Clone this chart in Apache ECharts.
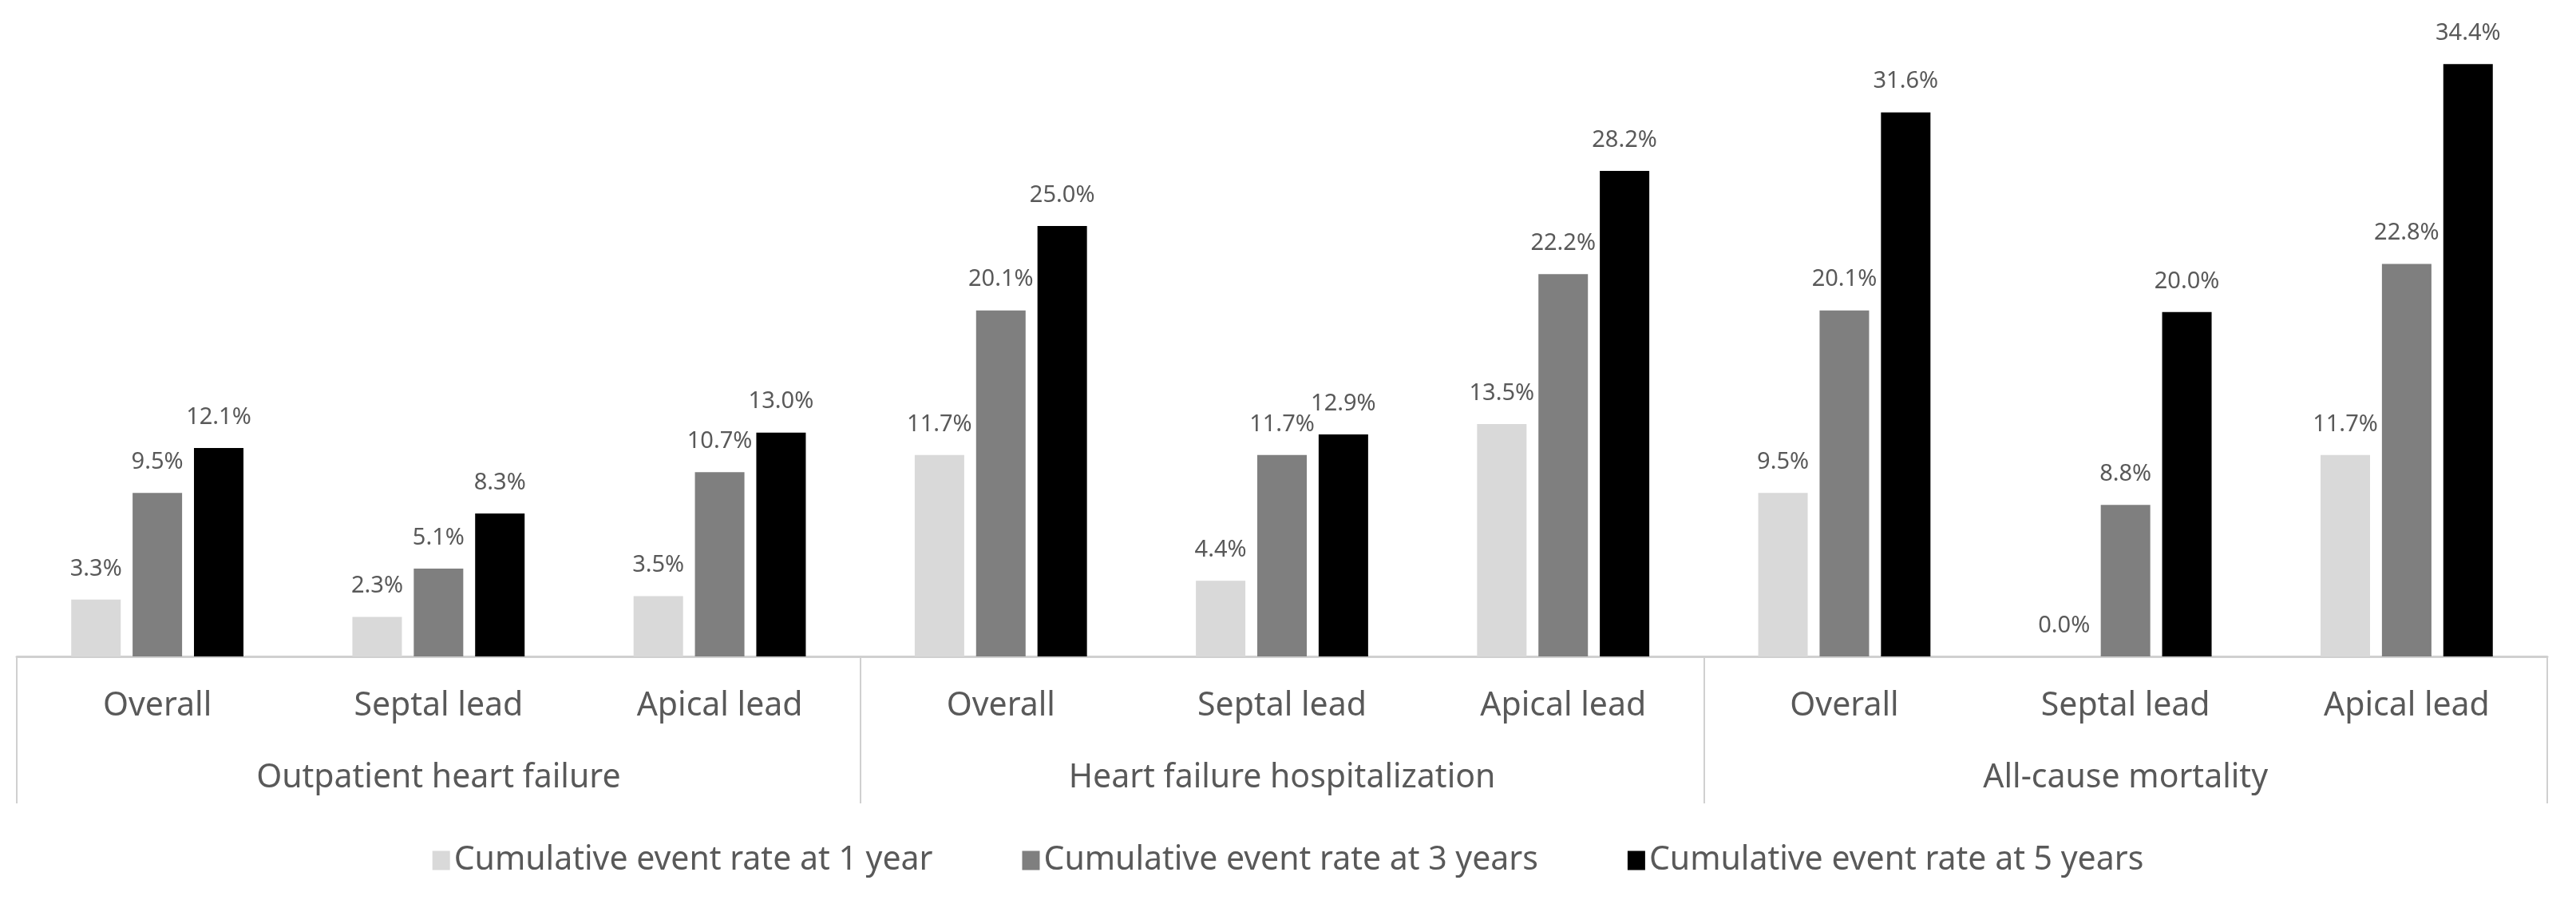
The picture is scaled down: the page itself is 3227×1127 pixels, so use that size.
<!DOCTYPE html>
<html>
<head>
<meta charset="utf-8">
<script src="https://cdn.jsdelivr.net/npm/echarts@6/dist/echarts.min.js"></script>
<style>
  html, body { margin: 0; padding: 0; background: #fff; }
  #chart { width: 3227px; height: 1127px; }
</style>
</head>
<body>
<div id="chart"></div>
<script>
const categories = ['Overall', 'Septal lead', 'Apical lead', 'Overall', 'Septal lead', 'Apical lead', 'Overall', 'Septal lead', 'Apical lead'];
const groups = ['Outpatient heart failure', 'Heart failure hospitalization', 'All-cause mortality'];
const seriesNames = ['Cumulative event rate at 1 year', 'Cumulative event rate at 3 years', 'Cumulative event rate at 5 years'];
const rate1y = [3.3, 2.3, 3.5, 11.7, 4.4, 13.5, 9.5, 0.0, 11.7];
const rate3y = [9.5, 5.1, 10.7, 20.1, 11.7, 22.2, 20.1, 8.8, 22.8];
const rate5y = [12.1, 8.3, 13.0, 25.0, 12.9, 28.2, 31.6, 20.0, 34.4];

const colors = ['#d9d9d9', '#7f7f7f', '#000000'];
const FONT = "'Noto Sans', 'Open Sans', sans-serif";
const TEXT = '#595959';

const chart = echarts.init(document.getElementById('chart'));

function mkSeries(name, data, color) {
  return {
    name: name,
    type: 'bar',
    data: data,
    barWidth: 62,
    barGap: '24%',
    itemStyle: { color: color },
    label: {
      show: true,
      position: 'top',
      distance: 24,
      color: TEXT,
      fontFamily: FONT,
      fontSize: 29,
      formatter: p => p.value.toFixed(1) + '%'
    },
    xAxisIndex: 0,
    yAxisIndex: 0
  };
}

chart.setOption({
  animation: false,
  backgroundColor: '#ffffff',
  color: colors,
  grid: { left: 21, right: 36, top: 67.4, bottom: 305, containLabel: false },
  legend: {
    bottom: 24,
    left: 'center',
    itemWidth: 22,
    itemHeight: 24,
    itemGap: 112,
    icon: 'rect',
    textStyle: { color: TEXT, fontFamily: FONT, fontSize: 41 },
    data: seriesNames
  },
  xAxis: [
    {
      type: 'category',
      position: 'bottom',
      data: categories,
      axisLine: { show: true, lineStyle: { color: '#d0d0d0', width: 3 } },
      axisTick: { show: false },
      axisLabel: { color: TEXT, fontFamily: FONT, fontSize: 41, margin: 42, interval: 0 },
      splitLine: { show: false }
    },
    {
      type: 'category',
      position: 'bottom',
      data: groups,
      axisLine: { show: false },
      axisTick: { show: true, length: 184, lineStyle: { color: '#d0d0d0', width: 2 } },
      axisLabel: { color: TEXT, fontFamily: FONT, fontSize: 41, margin: 132, interval: 0 },
      splitLine: { show: false }
    }
  ],
  yAxis: {
    type: 'value',
    min: 0,
    max: 35,
    show: false,
    splitLine: { show: false }
  },
  series: [
    mkSeries(seriesNames[0], rate1y, colors[0]),
    mkSeries(seriesNames[1], rate3y, colors[1]),
    mkSeries(seriesNames[2], rate5y, colors[2])
  ]
});
</script>
</body>
</html>
